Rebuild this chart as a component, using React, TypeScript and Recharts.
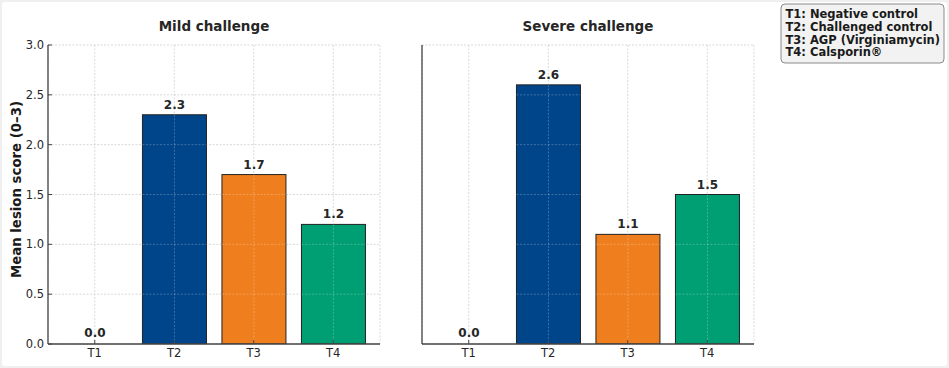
import React from 'react';
import { BarChart, Bar, XAxis, YAxis, CartesianGrid, Cell, LabelList } from 'recharts';

const categories = ['T1', 'T2', 'T3', 'T4'];
const mildScores = [0.0, 2.3, 1.7, 1.2];
const severeScores = [0.0, 2.6, 1.1, 1.5];
const barColors = ['#7f7f7f', '#00458A', '#EF7F1E', '#009E73'];
const yTicks = [0, 0.5, 1.0, 1.5, 2.0, 2.5, 3.0];
const panelTitles = ['Mild challenge', 'Severe challenge'];
const legendLines = ['T1: Negative control', 'T2: Challenged control', 'T3: AGP (Virginiamycin)', 'T4: Calsporin®'];
const yLabel = 'Mean lesion score (0–3)';

const FONT = '"DejaVu Sans", Verdana, sans-serif';
const GRID_DASH = '2 1.5';

const mildData = categories.map((c, i) => ({ name: c, value: mildScores[i] }));
const severeData = categories.map((c, i) => ({ name: c, value: severeScores[i] }));

// Bar shape that also redraws the grid over the bar (grid sits above bars in the reference)
function BarWithGrid(props: any) {
  const { x, y, width, height, fill, value } = props;
  const v = Array.isArray(value) ? value[1] - value[0] : value;
  if (!(v > 0)) return <g />;
  const cx = x + width / 2;
  const pxPerUnit = height / v;
  const inner = yTicks.filter((t) => t > 0 && t < v);
  return (
    <g>
      <rect x={x} y={y} width={width} height={height} fill={fill} stroke="#222" strokeWidth={1} />
      <line x1={cx} x2={cx} y1={y} y2={y + height} stroke="#ffffff" strokeOpacity={0.35} strokeWidth={0.7} strokeDasharray={GRID_DASH} />
      {inner.map((t) => {
        const yy = y + height - t * pxPerUnit;
        return (
          <line key={t} x1={x} x2={x + width} y1={yy} y2={yy} stroke="#ffffff" strokeOpacity={0.35} strokeWidth={0.7} strokeDasharray={GRID_DASH} />
        );
      })}
    </g>
  );
}

function Panel({ data, left, showYLabels, marginLeft, marginRight }: any) {
  return (
    <div style={{ position: 'absolute', left, top: 0 }}>
      <BarChart
        width={400}
        height={368}
        data={data}
        margin={{ top: 45, right: marginRight, bottom: 4, left: marginLeft }}
        barCategoryGap="10%"
      >
        <CartesianGrid stroke="#c8c8c8" strokeWidth={0.7} strokeDasharray={GRID_DASH} />
        <XAxis
          dataKey="name"
          padding={{ left: 7, right: 7 }}
          height={20}
          tickSize={-4}
          tickMargin={9}
          axisLine={{ stroke: '#444', strokeWidth: 1.3 }}
          tickLine={{ stroke: '#444' }}
          tick={{ fill: '#262626', fontSize: 11.5, fontFamily: FONT }}
        />
        <YAxis
          width={40}
          domain={[0, 3]}
          ticks={yTicks}
          type="number"
          allowDataOverflow
          interval={0}
          tickSize={-4}
          tickMargin={8}
          tickFormatter={(v: number) => v.toFixed(1)}
          axisLine={{ stroke: '#444', strokeWidth: 1.3 }}
          tickLine={{ stroke: '#444' }}
          tick={showYLabels ? { fill: '#262626', fontSize: 11.5, fontFamily: FONT } : false}
        />
        <Bar dataKey="value" isAnimationActive={false} minPointSize={1} shape={BarWithGrid}>
          {data.map((d: any, i: number) => (
            <Cell key={d.name} fill={barColors[i]} />
          ))}
          <LabelList
            dataKey="value"
            position="top"
            offset={6}
            formatter={(v: any) => Number(v).toFixed(1)}
            style={{ fill: '#262626', fontSize: 12, fontWeight: 700, fontFamily: FONT }}
          />
        </Bar>
      </BarChart>
    </div>
  );
}

export default function App() {
  return (
    <div style={{ position: 'fixed', left: 0, top: 0, width: 949, height: 368, background: '#f0f0f0', overflow: 'hidden' }}>
      <div style={{ position: 'absolute', left: 2, top: 2, width: 944.5, height: 363.5, background: '#fff', borderRadius: 3 }} />
      <Panel data={mildData} left={0} showYLabels marginLeft={8} marginRight={20} />
      <Panel data={severeData} left={380} showYLabels={false} marginLeft={2} marginRight={26} />
      <svg width={949} height={368} style={{ position: 'absolute', left: 0, top: 0, pointerEvents: 'none' }}>
        <text x={214} y={26} textAnchor="middle" dominantBaseline="central" fontFamily={FONT} fontWeight={700} fontSize={13.5} fill="#262626">
          {panelTitles[0]}
        </text>
        <text x={588} y={26} textAnchor="middle" dominantBaseline="central" fontFamily={FONT} fontWeight={700} fontSize={13.5} fill="#262626">
          {panelTitles[1]}
        </text>
        <text
          x={16}
          y={189.5}
          transform="rotate(-90 16 189.5)"
          textAnchor="middle"
          dominantBaseline="central"
          fontFamily={FONT}
          fontWeight={700}
          fontSize={13.3}
          fill="#1a1a1a"
        >
          {yLabel}
        </text>
        <rect x={781} y={4} width={163} height={59} rx={4} fill="#f2f2f2" stroke="#8a8a8a" strokeWidth={1} />
        {legendLines.map((t, i) => (
          <text key={t} x={785.5} y={14 + i * 12.8} dominantBaseline="central" fontFamily={FONT} fontWeight={700} fontSize={11.5} fill="#1a1a1a">
            {t}
          </text>
        ))}
      </svg>
    </div>
  );
}
